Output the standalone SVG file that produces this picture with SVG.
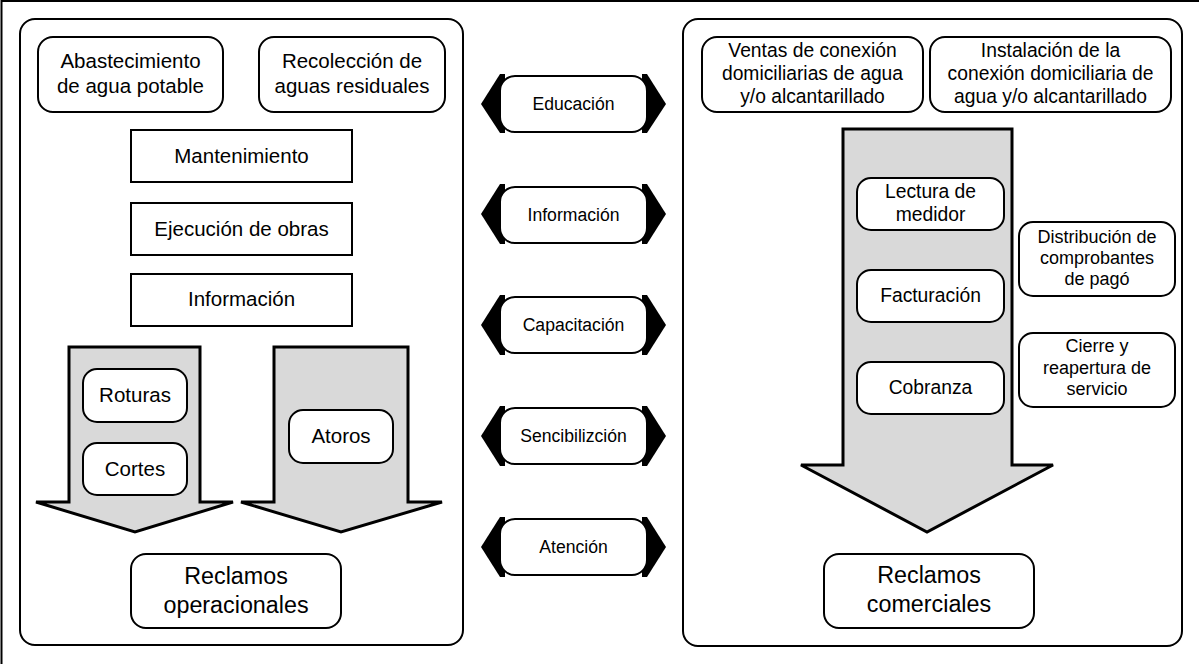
<svg xmlns="http://www.w3.org/2000/svg" width="1199" height="664" viewBox="0 0 1199 664">
<style>
text{font-family:"Liberation Sans",Arial,sans-serif;fill:#000;text-anchor:middle}
.panel{fill:#fff;stroke:#000;stroke-width:2}
.rb{fill:#fff;stroke:#000;stroke-width:2}
.sq{fill:#fff;stroke:#000;stroke-width:2}
.big{fill:#d9d9d9;stroke:#000;stroke-width:3;stroke-linejoin:miter}
.head{fill:#000}
.f20{font-size:20.5px}
.f19{font-size:19.3px}
.f18{font-size:18px}
.f17{font-size:17.6px}
.f23{font-size:23.3px}
</style>
<rect width="1199" height="664" fill="#fff"/>
<g id="frame"><path d="M1.5 664 V1 H1199" fill="none" stroke="#000" stroke-width="2"/></g>

<g id="panel-left"><rect class="panel" x="20" y="19" width="443" height="626" rx="15"/></g>
<g id="panel-right"><rect class="panel" x="683" y="19" width="499" height="627" rx="15"/></g>

<g id="connectors">
<polygon class="big" points="69,347 200,347 200,502 233,502 135,532 36,502 69,502"/>
<polygon class="big" points="274,347 408,347 408,502 442,502 341,532 241,502 274,502"/>
<polygon class="big" points="843,129 1012,129 1012,465 1053,465 927,532 801,465 843,465"/>
</g>

<g id="abastecimiento"><rect class="rb" x="38" y="37" width="185" height="75" rx="15"/>
<text class="f20" x="130.5" y="68">Abastecimiento</text><text class="f20" x="130.5" y="93">de agua potable</text></g>
<g id="recoleccion"><rect class="rb" x="259" y="37" width="186" height="75" rx="15"/>
<text class="f20" x="352" y="68">Recolección de</text><text class="f20" x="352" y="93">aguas residuales</text></g>
<g id="mantenimiento"><rect class="sq" x="131" y="130" width="221" height="52"/><text class="f20" x="241.5" y="163">Mantenimiento</text></g>
<g id="ejecucion"><rect class="sq" x="131" y="203" width="221" height="52"/><text class="f20" x="241.5" y="236">Ejecución de obras</text></g>
<g id="informacion-left"><rect class="sq" x="131" y="274" width="221" height="52"/><text class="f20" x="241.5" y="306">Información</text></g>
<g id="roturas"><rect class="rb" x="83" y="369" width="104" height="53" rx="14"/><text class="f20" x="135" y="402">Roturas</text></g>
<g id="cortes"><rect class="rb" x="83" y="443" width="104" height="52" rx="14"/><text class="f20" x="135" y="476">Cortes</text></g>
<g id="atoros"><rect class="rb" x="289" y="410" width="104" height="53" rx="14"/><text class="f20" x="341" y="443">Atoros</text></g>
<g id="reclamos-operacionales"><rect class="rb" x="131" y="554" width="210" height="74" rx="15"/>
<text class="f23" x="236" y="584">Reclamos</text><text class="f23" x="236" y="613">operacionales</text></g>

<g id="educacion"><polygon class="head" points="481,104 500,74 505,74 505,133 500,133"/><polygon class="head" points="666,104 647,74 642,74 642,133 647,133"/>
<rect class="rb" x="500" y="76" width="147" height="56" rx="15"/><text class="f17" x="573.5" y="110">Educación</text></g>
<g id="informacion-mid"><polygon class="head" points="481,214 500,184 505,184 505,244 500,244"/><polygon class="head" points="666,214 647,184 642,184 642,244 647,244"/>
<rect class="rb" x="500" y="187" width="147" height="56" rx="15"/><text class="f17" x="573.5" y="221">Información</text></g>
<g id="capacitacion"><polygon class="head" points="481,325 500,295 505,295 505,355 500,355"/><polygon class="head" points="666,325 647,295 642,295 642,355 647,355"/>
<rect class="rb" x="500" y="297" width="147" height="56" rx="15"/><text class="f17" x="573.5" y="331">Capacitación</text></g>
<g id="sencibilizcion"><polygon class="head" points="481,436 500,406 505,406 505,466 500,466"/><polygon class="head" points="666,436 647,406 642,406 642,466 647,466"/>
<rect class="rb" x="500" y="408" width="147" height="56" rx="15"/><text class="f17" x="573.5" y="442">Sencibilizción</text></g>
<g id="atencion"><polygon class="head" points="481,547 500,517 505,517 505,577 500,577"/><polygon class="head" points="666,547 647,517 642,517 642,577 647,577"/>
<rect class="rb" x="500" y="519" width="147" height="56" rx="15"/><text class="f17" x="573.5" y="553">Atención</text></g>

<g id="ventas"><rect class="rb" x="702" y="37" width="221" height="75" rx="15"/>
<text class="f19" x="812.5" y="57">Ventas de conexión</text><text class="f19" x="812.5" y="80">domiciliarias de agua</text><text class="f19" x="812.5" y="103">y/o alcantarillado</text></g>
<g id="instalacion"><rect class="rb" x="930" y="37" width="241" height="75" rx="15"/>
<text class="f19" x="1050.5" y="57">Instalación de la</text><text class="f19" x="1050.5" y="80">conexión domiciliaria de</text><text class="f19" x="1050.5" y="103">agua y/o alcantarillado</text></g>
<g id="lectura"><rect class="rb" x="857" y="178" width="147" height="52" rx="14"/>
<text class="f19" x="930.5" y="198">Lectura de</text><text class="f19" x="930.5" y="221">medidor</text></g>
<g id="facturacion"><rect class="rb" x="857" y="270" width="147" height="52" rx="14"/><text class="f19" x="930.5" y="302">Facturación</text></g>
<g id="cobranza"><rect class="rb" x="857" y="362" width="147" height="52" rx="14"/><text class="f19" x="930.5" y="394">Cobranza</text></g>
<g id="distribucion"><rect class="rb" x="1019" y="222" width="156" height="74" rx="14"/>
<text class="f18" x="1097" y="243">Distribución de</text><text class="f18" x="1097" y="264">comprobantes</text><text class="f18" x="1097" y="285">de pagó</text></g>
<g id="cierre"><rect class="rb" x="1019" y="333" width="156" height="74" rx="14"/>
<text class="f18" x="1097" y="352">Cierre y</text><text class="f18" x="1097" y="374">reapertura de</text><text class="f18" x="1097" y="395">servicio</text></g>
<g id="reclamos-comerciales"><rect class="rb" x="824" y="554" width="210" height="74" rx="15"/>
<text class="f23" x="929" y="583">Reclamos</text><text class="f23" x="929" y="612">comerciales</text></g>
</svg>
